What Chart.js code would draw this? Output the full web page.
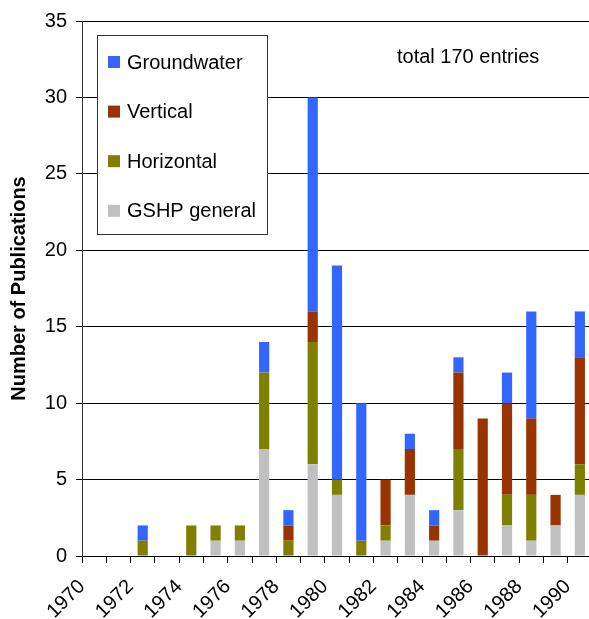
<!DOCTYPE html>
<html>
<head>
<meta charset="utf-8">
<script src="https://cdn.jsdelivr.net/npm/chart.js@4"></script>
<style>
  html, body { margin: 0; padding: 0; background: #fff; overflow: hidden; }
  #wrap { width: 592px; height: 619px; }
</style>
</head>
<body>
<div id="wrap"><canvas id="pubChart"></canvas></div>
<script>
// Publications per year, 1970-1990
const years = ['1970','1971','1972','1973','1974','1975','1976','1977','1978','1979',
  '1980','1981','1982','1983','1984','1985','1986','1987','1988','1989','1990'];
const gshpGeneral = [0,0,0,0,0,1,1,7,0,6,4,0,1,4,1,3,0,2,1,2,4];
const horizontal  = [0,0,1,0,2,1,1,5,1,8,1,1,1,0,0,4,0,2,3,0,2];
const vertical    = [0,0,0,0,0,0,0,0,1,2,0,0,3,3,1,5,9,6,5,2,7];
const groundwater = [0,0,1,0,0,0,0,2,1,14,14,9,0,1,1,1,0,2,7,0,3];
// axis labels sit on the tick marks, every other year
const tickLabels = ['1970','','1972','','1974','','1976','','1978','','1980',
  '','1982','','1984','','1986','','1988','','1990',''];
const yTicks = [0, 5, 10, 15, 20, 25, 30, 35];
const note = 'total 170 entries';

const FONT = '"Liberation Sans", Arial, sans-serif';

// Legend box drawn inside the plot, top item = top of the stack
const boxLegend = {
  id: 'boxLegend',
  afterDraw(chart) {
    const { ctx, chartArea } = chart;
    const x0 = chartArea.left + 15, y0 = chartArea.top + 14;
    const w = 170, h = 199;
    ctx.save();
    ctx.fillStyle = '#fff';
    ctx.fillRect(x0, y0, w, h);
    ctx.strokeStyle = '#333';
    ctx.lineWidth = 1;
    ctx.strokeRect(Math.round(x0) + 0.5, Math.round(y0) + 0.5, w, h);
    ctx.font = '20px ' + FONT;
    ctx.textBaseline = 'middle';
    const sets = chart.data.datasets.slice().reverse();
    sets.forEach((ds, i) => {
      const cy = y0 + 27 + i * 49.6;
      ctx.fillStyle = ds.backgroundColor;
      ctx.fillRect(x0 + 11, cy - 6, 12, 12);
      ctx.fillStyle = '#000';
      ctx.fillText(ds.label, x0 + 30, cy + 1);
    });
    // note text, upper right
    ctx.fillText(note, chartArea.right - 195, chartArea.top + 36);
    ctx.restore();
  }
};

new Chart(document.getElementById('pubChart'), {
  type: 'bar',
  data: {
    labels: years,
    datasets: [
      { label: 'GSHP general', data: gshpGeneral, backgroundColor: '#C0C0C0' },
      { label: 'Horizontal', data: horizontal, backgroundColor: '#808000' },
      { label: 'Vertical', data: vertical, backgroundColor: '#993300' },
      { label: 'Groundwater', data: groundwater, backgroundColor: '#3366FF' }
    ]
  },
  options: {
    responsive: true,
    maintainAspectRatio: false,
    animation: false,
    layout: { padding: { top: 21, right: 0, left: 0, bottom: 0 } },
    datasets: {
      bar: { categoryPercentage: 1, barPercentage: 0.42, borderWidth: 0 }
    },
    plugins: {
      legend: { display: false },
      tooltip: { enabled: false }
    },
    scales: {
      x: {
        type: 'category',
        stacked: true,
        display: false,
        offset: true
      },
      x2: {
        type: 'category',
        labels: tickLabels,
        position: 'bottom',
        offset: false,
        afterFit(scale) {
          scale.height = 63;
          scale.paddingLeft = 0;
          scale.paddingRight = 0;
        },
        grid: {
          offset: false,
          drawOnChartArea: false,
          tickLength: 7,
          color: '#000'
        },
        border: { color: '#000', width: 1 },
        ticks: {
          autoSkip: false,
          minRotation: 45,
          maxRotation: 45,
          padding: 12,
          color: '#000',
          font: { family: FONT, size: 20 }
        }
      },
      y: {
        stacked: true,
        min: 0,
        max: 35,
        afterFit(scale) { scale.width = 82; },
        afterBuildTicks(scale) { scale.ticks = yTicks.map(v => ({ value: v })); },
        grid: { color: '#000', lineWidth: 1, tickLength: 6 },
        border: { color: '#333', width: 1 },
        ticks: {
          padding: 9,
          color: '#000',
          font: { family: FONT, size: 20 }
        },
        title: {
          display: true,
          text: 'Number of Publications',
          color: '#000',
          padding: { top: 7, bottom: 0 },
          font: { family: FONT, size: 20, weight: 'bold' }
        }
      }
    }
  },
  plugins: [boxLegend]
});
</script>
</body>
</html>
